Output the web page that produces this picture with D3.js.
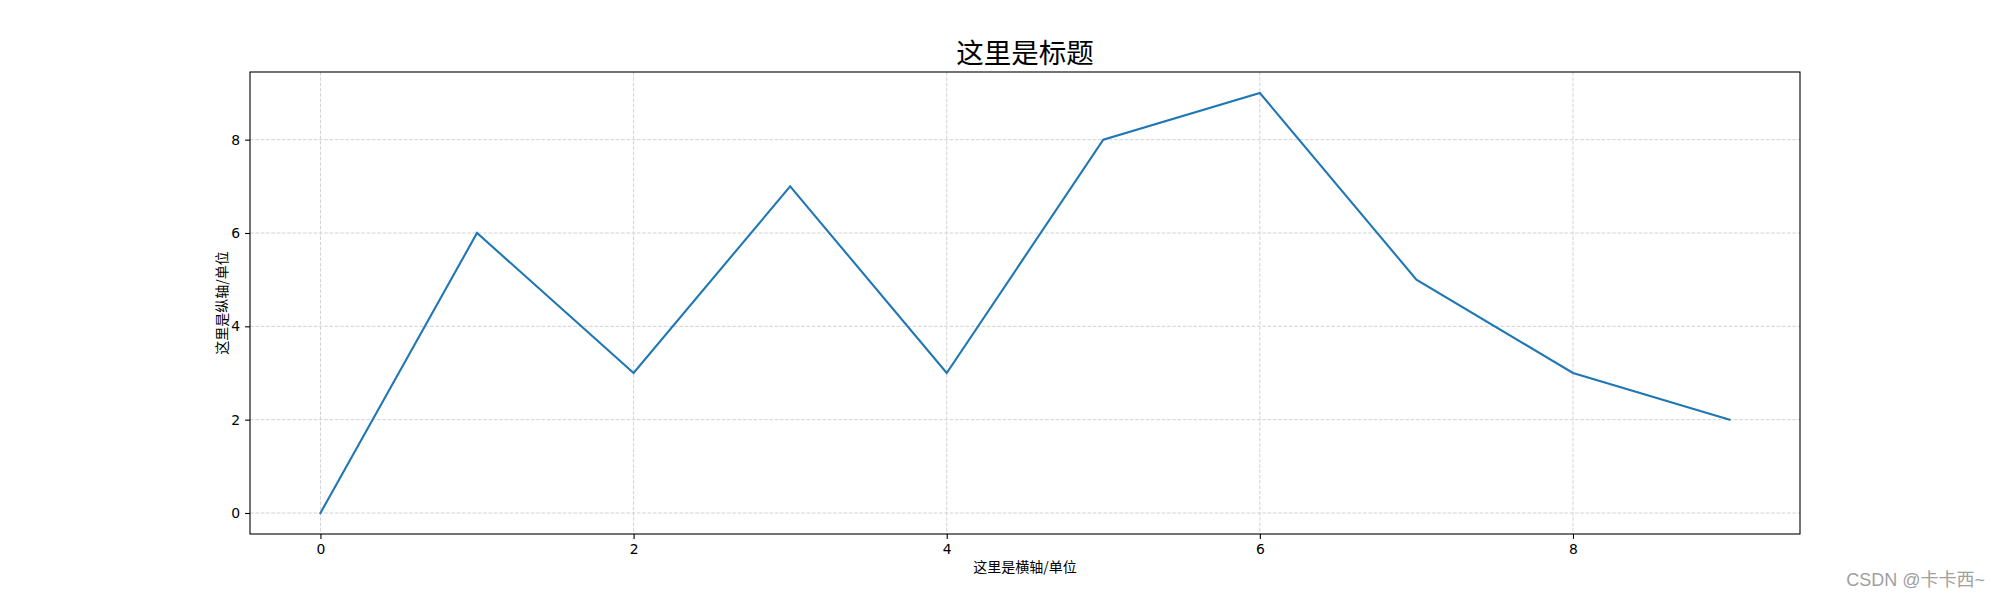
<!DOCTYPE html>
<html>
<head>
<meta charset="utf-8">
<script src="https://cdn.jsdelivr.net/npm/d3@7"></script>
<style>
  html, body { margin: 0; padding: 0; background: #fff; }
  svg { display: block; }
</style>
</head>
<body>
<svg id="chart" width="2000" height="600"></svg>
<script>
const xValues = [0, 1, 2, 3, 4, 5, 6, 7, 8, 9];
const yValues = [0, 6, 3, 7, 3, 8, 9, 5, 3, 2];
const xTicks = [0, 2, 4, 6, 8];
const yTicks = [0, 2, 4, 6, 8];
const titleText = "这里是标题";
const xLabelText = "这里是横轴/单位";
const yLabelText = "这里是纵轴/单位";
const watermarkText = "CSDN @卡卡西~";

(function () {
const pLeft = 250, pRight = 1800, pTop = 72, pBottom = 534;
const cjk = "'Noto Sans CJK SC', 'Noto Sans', sans-serif";
const tickFont = "'DejaVu Sans', sans-serif";

const svg = d3.select("#chart");

const xMin = d3.min(xValues), xMax = d3.max(xValues);
const yMin = d3.min(yValues), yMax = d3.max(yValues);
const xPad = (xMax - xMin) * 0.05, yPad = (yMax - yMin) * 0.05;

const x = d3.scaleLinear().domain([xMin - xPad, xMax + xPad]).range([pLeft, pRight]);
const y = d3.scaleLinear().domain([yMin - yPad, yMax + yPad]).range([pBottom, pTop]);

// grid
const grid = svg.append("g");
grid.selectAll("line.gx").data(xTicks).enter().append("line")
  .attr("class", "gx")
  .attr("x1", d => x(d)).attr("x2", d => x(d))
  .attr("y1", pTop).attr("y2", pBottom)
  .attr("stroke", "#d3d3d3").attr("stroke-width", 1)
  .attr("stroke-dasharray", "3.7,1.6");
grid.selectAll("line.gy").data(yTicks).enter().append("line")
  .attr("class", "gy")
  .attr("y1", d => y(d)).attr("y2", d => y(d))
  .attr("x1", pLeft).attr("x2", pRight)
  .attr("stroke", "#d3d3d3").attr("stroke-width", 1)
  .attr("stroke-dasharray", "3.7,1.6");

// line
const line = d3.line().x((d, i) => x(xValues[i])).y(d => y(d));
svg.append("path")
  .datum(yValues)
  .attr("d", line)
  .attr("fill", "none")
  .attr("stroke", "#1f77b4")
  .attr("stroke-width", 2.1)
  .attr("stroke-linejoin", "miter")
  .attr("stroke-linecap", "square");

// axes
const xAxis = d3.axisBottom(x).tickValues(xTicks).tickSize(4.9).tickPadding(4.9).tickFormat(d3.format("d"));
const yAxis = d3.axisLeft(y).tickValues(yTicks).tickSize(4.9).tickPadding(4.9).tickFormat(d3.format("d"));

const gx = svg.append("g").attr("transform", `translate(0,${pBottom})`).call(xAxis);
const gy = svg.append("g").attr("transform", `translate(${pLeft},0)`).call(yAxis);
[gx, gy].forEach(g => {
  g.select(".domain").remove();
  g.selectAll(".tick line").attr("stroke", "#000").attr("stroke-width", 1.1);
  g.selectAll(".tick text").attr("fill", "#000")
    .style("font-family", tickFont).style("font-size", "13.9px");
});

// frame
svg.append("rect")
  .attr("x", pLeft).attr("y", pTop)
  .attr("width", pRight - pLeft).attr("height", pBottom - pTop)
  .attr("fill", "none").attr("stroke", "#000").attr("stroke-width", 1.1);

// title
svg.append("text")
  .attr("x", (pLeft + pRight) / 2).attr("y", 63)
  .attr("text-anchor", "middle")
  .style("font-family", cjk).style("font-size", "27.5px")
  .attr("fill", "#000")
  .text(titleText);

// x label
svg.append("text")
  .attr("x", (pLeft + pRight) / 2).attr("y", 572)
  .attr("text-anchor", "middle")
  .style("font-family", cjk).style("font-size", "14px")
  .attr("fill", "#000")
  .text(xLabelText);

// y label
svg.append("text")
  .attr("transform", `translate(227,${(pTop + pBottom) / 2}) rotate(-90)`)
  .attr("text-anchor", "middle")
  .style("font-family", cjk).style("font-size", "14px")
  .attr("fill", "#000")
  .text(yLabelText);

// watermark
svg.append("text")
  .attr("x", 1985).attr("y", 586)
  .attr("text-anchor", "end")
  .style("font-family", "'Liberation Sans', 'Noto Sans CJK SC', sans-serif").style("font-size", "18px")
  .attr("fill", "#a0a0a0")
  .text(watermarkText);
})();
</script>
</body>
</html>
